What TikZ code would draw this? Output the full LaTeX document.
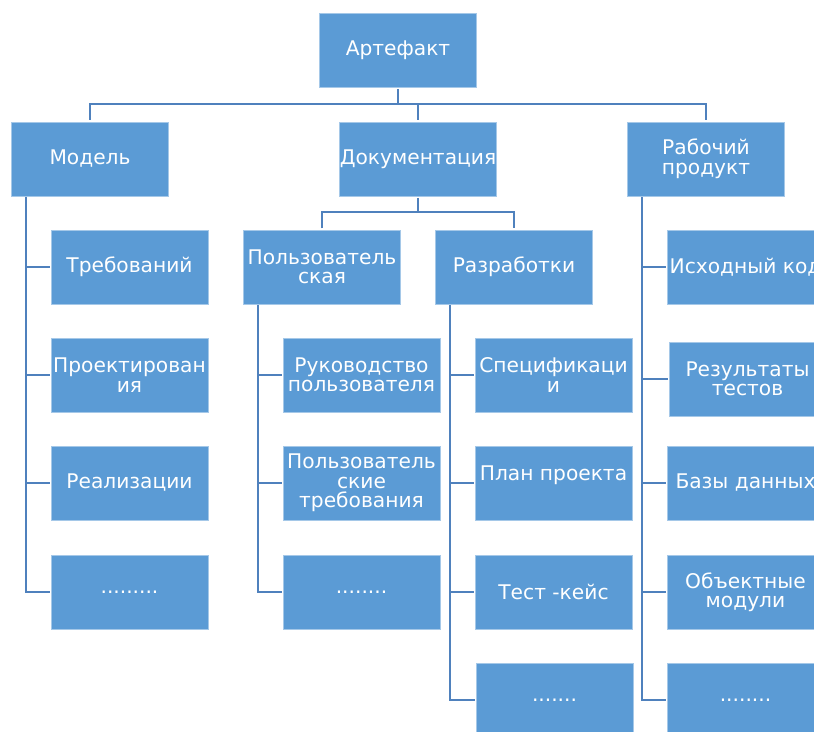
\documentclass[tikz,border=0pt]{standalone}
\usepackage{fontspec}
\setmainfont{DejaVu Sans}
\definecolor{boxblue}{HTML}{5B9BD5}
\definecolor{lineblue}{HTML}{4F81BD}
\tikzset{
  box/.style={fill=boxblue, draw=boxblue!55!white, line width=0.5pt,
    minimum width=157pt, minimum height=74pt, inner sep=0pt,
    text=white, align=center, font=\fontsize{20.2}{19.5}\selectfont},
  conn/.style={draw=lineblue, line width=1.8pt}
}
\begin{document}
\begin{tikzpicture}[x=1pt,y=-1pt]
\clip (0,0) rectangle (814,731);
\fill[white] (0,0) rectangle (814,731);
% level 0/1
\node[box] (art) at (398,50) {Артефакт};
\node[box] (mod) at (90,159) {Модель};
\node[box] (doc) at (418,159) {Документация};
\node[box] (rab) at (706,159) {Рабочий\\продукт};
% model children
\node[box] (m1) at (129.5,267) {Требований};
\node[box] (m2) at (129.5,375) {Проектирован\\ия};
\node[box] (m3) at (129.5,483) {Реализации};
\node[box] (m4) at (129.5,592) {.........};
% documentation children
\node[box] (pu) at (322,267) {Пользователь\\ская};
\node[box] (ra) at (514,267) {Разработки};
\node[box] (p1) at (361.5,375) {Руководство\\пользователя};
\node[box] (p2) at (361.5,483) {Пользователь\\ские\\требования};
\node[box] (p3) at (361.5,592) {........};
\node[box] (r1) at (553.5,375) {Спецификаци\\и};
\node[box] (r2) at (553.5,483) {План проекта\\\mbox{}};
\node[box] (r3) at (553.5,592) {Тест -кейс};
\node[box] (r4) at (554.5,700) {.......};
% work product children
\node[box] (w1) at (745.5,267) {Исходный код};
\node[box] (w2) at (747.5,379) {Результаты\\тестов};
\node[box] (w3) at (745.5,483) {Базы данных};
\node[box] (w4) at (745.5,592) {Объектные\\модули};
\node[box] (w5) at (745.5,700) {........};
% top connectors
\coordinate (h1) at (90,104);
\coordinate (h2) at (706,104);
\draw[conn] ([yshift=-1.5pt]art.south) -- (art.south |- h1);
\draw[conn] ([yshift=2pt]mod.north) -- (h1) -- (h2) -- ([yshift=2pt]rab.north);
\draw[conn] ([yshift=2pt]doc.north) -- (doc.north |- h1);
% documentation connectors
\coordinate (d1) at (322,212);
\coordinate (d2) at (514,212);
\draw[conn] ([yshift=-1.5pt]doc.south) -- (doc.south |- d1);
\draw[conn] ([yshift=1.5pt]pu.north) -- (d1) -- (d2) -- ([yshift=1.5pt]ra.north);
% model spine
\coordinate (ms) at (26,197);
\draw[conn] (ms) |- ([xshift=-1pt]m4.west);
\foreach \c in {m1,m2,m3} \draw[conn] (ms |- \c.west) -- ([xshift=-1pt]\c.west);
% user doc spine
\coordinate (ps) at (258,305);
\draw[conn] (ps) |- ([xshift=-1pt]p3.west);
\foreach \c in {p1,p2} \draw[conn] (ps |- \c.west) -- ([xshift=-1pt]\c.west);
% development spine
\coordinate (rs) at (450,305);
\draw[conn] (rs) |- ([xshift=-1pt]r4.west);
\foreach \c in {r1,r2,r3} \draw[conn] (rs |- \c.west) -- ([xshift=-1pt]\c.west);
% work product spine
\coordinate (ws) at (642,197);
\draw[conn] (ws) |- ([xshift=-1pt]w5.west);
\foreach \c in {w1,w2,w3,w4} \draw[conn] (ws |- \c.west) -- ([xshift=-1pt]\c.west);
\end{tikzpicture}
\end{document}
